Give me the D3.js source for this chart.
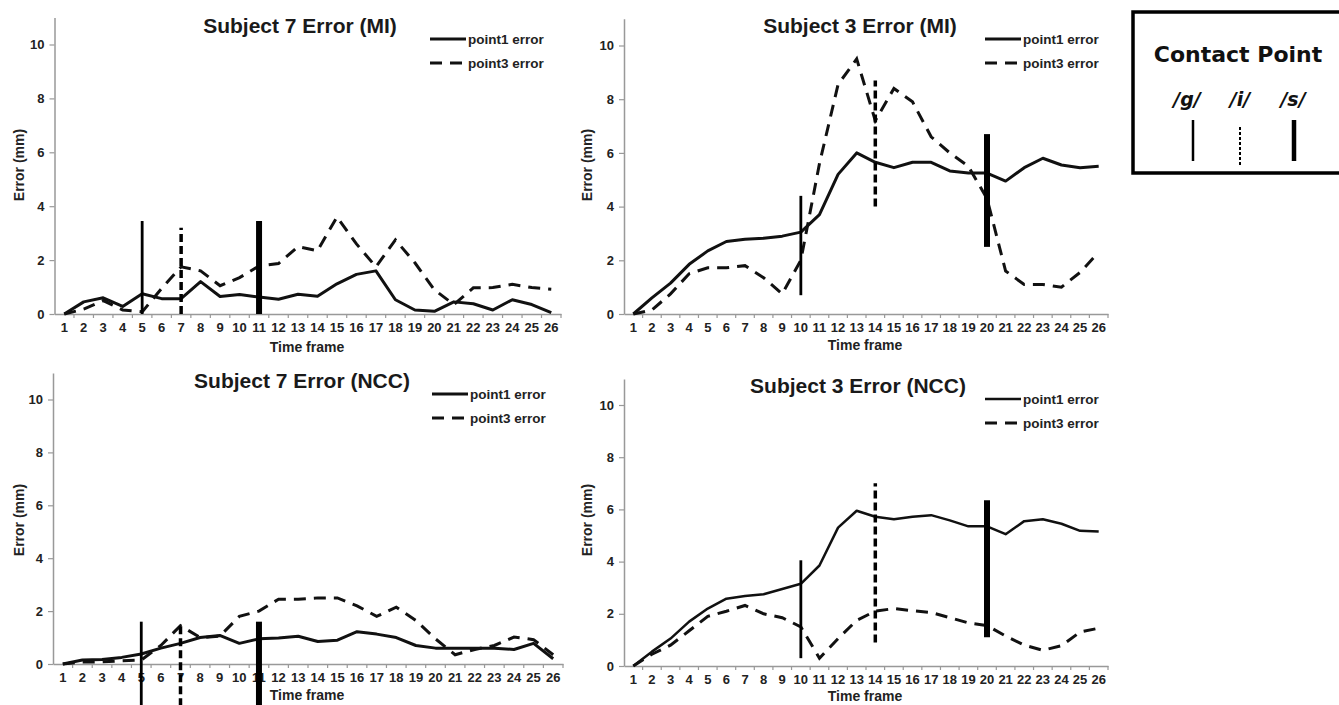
<!DOCTYPE html>
<html>
<head>
<meta charset="utf-8">
<script src="https://cdn.jsdelivr.net/npm/d3@7"></script>
<style>
  body { margin: 0; background: #fff; }
  svg { display: block; font-family: "Liberation Sans", Arial, sans-serif; }
</style>
</head>
<body>
<svg id="chart" width="1339" height="705"></svg>
<script>
// time frame categories (x tick labels)
var frames = ["1","2","3","4","5","6","7","8","9","10","11","12","13","14","15","16","17","18","19","20","21","22","23","24","25","26"];
var yTicks = [0, 2, 4, 6, 8, 10];

// Subject 7, MI
var s7miP1 = [0, 0.45, 0.6, 0.28, 0.75, 0.57, 0.57, 1.2, 0.65, 0.72, 0.63, 0.55, 0.73, 0.66, 1.12, 1.47, 1.6, 0.53, 0.15, 0.1, 0.45, 0.38, 0.15, 0.53, 0.35, 0.05];
var s7miP3 = [0, 0.18, 0.5, 0.15, 0.08, 0.95, 1.75, 1.6, 1.05, 1.35, 1.78, 1.87, 2.5, 2.35, 3.6, 2.6, 1.75, 2.75, 1.9, 0.9, 0.35, 0.97, 0.98, 1.1, 0.98, 0.92];
// Subject 3, MI
var s3miP1 = [0, 0.6, 1.15, 1.85, 2.35, 2.7, 2.78, 2.82, 2.9, 3.05, 3.7, 5.2, 6.0, 5.65, 5.45, 5.65, 5.65, 5.33, 5.25, 5.25, 4.95, 5.45, 5.8, 5.55, 5.45, 5.5];
var s3miP3 = [0, 0.15, 0.75, 1.5, 1.72, 1.72, 1.8, 1.35, 0.75, 2.0, 5.6, 8.55, 9.5, 7.2, 8.4, 7.9, 6.6, 6.0, 5.5, 4.3, 1.6, 1.1, 1.1, 1.0, 1.55, 2.3];
// Subject 7, NCC
var s7nccP1 = [0, 0.15, 0.17, 0.25, 0.38, 0.6, 0.78, 1.0, 1.08, 0.78, 0.95, 0.98, 1.05, 0.85, 0.9, 1.22, 1.13, 1.0, 0.7, 0.6, 0.6, 0.6, 0.6, 0.55, 0.78, 0.2];
var s7nccP3 = [0, 0.08, 0.08, 0.12, 0.15, 0.7, 1.45, 1.0, 1.05, 1.8, 2.0, 2.45, 2.45, 2.5, 2.5, 2.2, 1.8, 2.15, 1.65, 0.95, 0.35, 0.55, 0.7, 1.02, 0.92, 0.35];
// Subject 3, NCC
var s3nccP1 = [0, 0.55, 1.05, 1.7, 2.2, 2.58, 2.68, 2.75, 2.95, 3.15, 3.85, 5.3, 5.95, 5.72, 5.62, 5.72, 5.78, 5.58, 5.35, 5.35, 5.05, 5.55, 5.62, 5.45, 5.18, 5.15];
var s3nccP3 = [0, 0.45, 0.8, 1.35, 1.9, 2.1, 2.32, 2.0, 1.85, 1.5, 0.3, 1.05, 1.75, 2.1, 2.2, 2.12, 2.05, 1.85, 1.65, 1.55, 1.15, 0.8, 0.6, 0.78, 1.3, 1.45];

// contact point markers: frame, phoneme, from, to (mm)
var s7miContacts = [["5", "g", 0, 3.45], ["7", "i", 0, 3.2], ["11", "s", 0, 3.45]];
var s3miContacts = [["10", "g", 0.7, 4.4], ["14", "i", 4.0, 8.7], ["20", "s", 2.5, 6.7]];
var s7nccContacts = [["5", "g", -1.6, 1.6], ["7", "i", -1.6, 1.5], ["11", "s", -1.6, 1.6]];
var s3nccContacts = [["10", "g", 0.3, 4.05], ["14", "i", 0.9, 7.0], ["20", "s", 1.1, 6.35]];

var phonemes = ["/g/", "/i/", "/s/"];

var markStyle = {
  g: { w: 2.8, dash: null },
  i: { w: 3.5, dash: "8,4" },
  s: { w: 6, dash: null }
};

var svg = d3.select("#chart");

function drawPanel(p) {
  var g = svg.append("g");

  var x = d3.scaleBand().domain(frames).range([p.left, p.right]).padding(0);
  var y = d3.scaleLinear().domain([0, 11]).range([p.zero, p.zero - (p.zero - p.ten) * 1.1]);
  var cx = function(f) { return x(f) + x.bandwidth() / 2; };

  // y axis
  var yAxis = g.append("g")
    .attr("transform", "translate(" + p.left + ",0)")
    .call(d3.axisLeft(y).tickValues(yTicks).tickSize(5).tickSizeOuter(0).tickPadding(5));
  yAxis.select(".domain").attr("stroke", "#999").attr("stroke-width", 1.5);
  yAxis.selectAll(".tick line").attr("stroke", "#999").attr("stroke-width", 1.2);
  yAxis.selectAll(".tick text")
    .attr("fill", "#222").attr("font-size", 13).attr("font-weight", "bold");

  // x axis: labels centred in bands, tick marks on the band edges
  var xAxis = g.append("g")
    .attr("transform", "translate(0," + p.zero + ")")
    .call(d3.axisBottom(x).tickSize(0).tickSizeOuter(0).tickPadding(9));
  xAxis.select(".domain").attr("stroke", "#999").attr("stroke-width", 1.5);
  xAxis.selectAll(".tick text")
    .attr("fill", "#222").attr("font-size", 13).attr("font-weight", "bold");
  xAxis.selectAll(".edge")
    .data(frames.slice(1).concat(["end"]))
    .enter().append("line")
    .attr("x1", function(d) { return d === "end" ? p.right : x(d); })
    .attr("x2", function(d) { return d === "end" ? p.right : x(d); })
    .attr("y1", 0).attr("y2", 4)
    .attr("stroke", "#999").attr("stroke-width", 1.2);

  // titles
  g.append("text")
    .attr("x", p.titleX).attr("y", p.titleY)
    .attr("text-anchor", "middle")
    .attr("font-size", 21).attr("font-weight", "bold").attr("fill", "#1a1a1a")
    .text(p.title);
  g.append("text")
    .attr("x", p.xLabelX).attr("y", p.xLabelY)
    .attr("text-anchor", "middle")
    .attr("font-size", 14).attr("font-weight", "bold").attr("fill", "#222")
    .text("Time frame");
  g.append("text")
    .attr("transform", "translate(" + p.yLabelX + "," + p.yLabelY + ") rotate(-90)")
    .attr("text-anchor", "middle")
    .attr("font-size", 14).attr("font-weight", "bold").attr("fill", "#222")
    .text("Error (mm)");

  // error lines
  var line = d3.line()
    .x(function(d, i) { return cx(frames[i]); })
    .y(function(d) { return y(d); });

  g.append("path")
    .attr("d", line(p.p1))
    .attr("fill", "none").attr("stroke", "#111")
    .attr("stroke-width", p.p1w).attr("stroke-linejoin", "round");
  g.append("path")
    .attr("d", line(p.p3))
    .attr("fill", "none").attr("stroke", "#111")
    .attr("stroke-width", 3).attr("stroke-dasharray", "12,8");

  // contact point markers
  g.selectAll(".contact")
    .data(p.contacts)
    .enter().append("line")
    .attr("x1", function(d) { return cx(d[0]); })
    .attr("x2", function(d) { return cx(d[0]); })
    .attr("y1", function(d) { return y(d[2]); })
    .attr("y2", function(d) { return y(d[3]); })
    .attr("stroke", "#000")
    .attr("stroke-width", function(d) { return markStyle[d[1]].w; })
    .attr("stroke-dasharray", function(d) { return markStyle[d[1]].dash; });

  // legend
  var leg = g.append("g");
  leg.append("line")
    .attr("x1", p.legX).attr("x2", p.legX + 36)
    .attr("y1", p.legY).attr("y2", p.legY)
    .attr("stroke", "#111").attr("stroke-width", p.p1w);
  leg.append("line")
    .attr("x1", p.legX).attr("x2", p.legX + 36)
    .attr("y1", p.legY + 24).attr("y2", p.legY + 24)
    .attr("stroke", "#111").attr("stroke-width", 3).attr("stroke-dasharray", "12,8");
  leg.selectAll("text")
    .data(["point1 error", "point3 error"])
    .enter().append("text")
    .attr("x", p.legX + 38)
    .attr("y", function(d, i) { return p.legY + i * 24 + 5; })
    .attr("font-size", 13.5).attr("font-weight", "bold").attr("fill", "#222")
    .text(function(d) { return d; });
}

drawPanel({
  title: "Subject 7 Error (MI)", p1: s7miP1, p3: s7miP3, contacts: s7miContacts, p1w: 3,
  left: 54.5, right: 561, zero: 314, ten: 44.5,
  titleX: 300, titleY: 33, xLabelX: 307, xLabelY: 352, yLabelX: 24, yLabelY: 165,
  legX: 430, legY: 39
});
drawPanel({
  title: "Subject 3 Error (MI)", p1: s3miP1, p3: s3miP3, contacts: s3miContacts, p1w: 3,
  left: 624, right: 1108, zero: 314, ten: 45.5,
  titleX: 860, titleY: 33, xLabelX: 865, xLabelY: 350, yLabelX: 592, yLabelY: 165,
  legX: 985, legY: 39
});
drawPanel({
  title: "Subject 7 Error (NCC)", p1: s7nccP1, p3: s7nccP3, contacts: s7nccContacts, p1w: 3,
  left: 53, right: 563, zero: 664, ten: 399.5,
  titleX: 302, titleY: 388, xLabelX: 307, xLabelY: 700, yLabelX: 24, yLabelY: 520,
  legX: 432, legY: 394
});
drawPanel({
  title: "Subject 3 Error (NCC)", p1: s3nccP1, p3: s3nccP3, contacts: s3nccContacts, p1w: 2.5,
  left: 624, right: 1108, zero: 666, ten: 405,
  titleX: 858, titleY: 393, xLabelX: 865, xLabelY: 701, yLabelX: 592, yLabelY: 520,
  legX: 985, legY: 399
});

// contact point key
var key = svg.append("g");
key.append("rect")
  .attr("x", 1133).attr("y", 12).attr("width", 220).attr("height", 161)
  .attr("fill", "none").attr("stroke", "#000").attr("stroke-width", 3.5);
key.append("text")
  .attr("x", 1238).attr("y", 62)
  .attr("text-anchor", "middle")
  .attr("font-family", "'DejaVu Sans', Verdana, sans-serif")
  .attr("font-size", 22).attr("font-weight", "bold").attr("fill", "#111")
  .text("Contact Point");
var keyX = d3.scalePoint().domain(phonemes).range([1187, 1293]);
var keyType = { "/g/": "g", "/i/": "i", "/s/": "s" };
key.selectAll(".ph")
  .data(phonemes)
  .enter().append("text")
  .attr("x", function(d) { return keyX(d); })
  .attr("y", 106)
  .attr("text-anchor", "middle")
  .attr("font-family", "'DejaVu Sans', Verdana, sans-serif")
  .attr("font-size", 19).attr("font-weight", "bold").attr("font-style", "italic").attr("fill", "#111")
  .text(function(d) { return d; });
key.selectAll(".mk")
  .data(phonemes)
  .enter().append("line")
  .attr("x1", function(d) { return keyX(d) + (d === "/g/" ? 6 : d === "/i/" ? 0 : 1); })
  .attr("x2", function(d) { return keyX(d) + (d === "/g/" ? 6 : d === "/i/" ? 0 : 1); })
  .attr("y1", function(d) { return d === "/i/" ? 127 : 120; })
  .attr("y2", function(d) { return d === "/i/" ? 167 : 161; })
  .attr("stroke", "#000")
  .attr("stroke-width", function(d) { return { g: 2.5, i: 2, s: 4.5 }[keyType[d]]; })
  .attr("stroke-dasharray", function(d) { return keyType[d] === "i" ? "3,2" : null; });
</script>
</body>
</html>
